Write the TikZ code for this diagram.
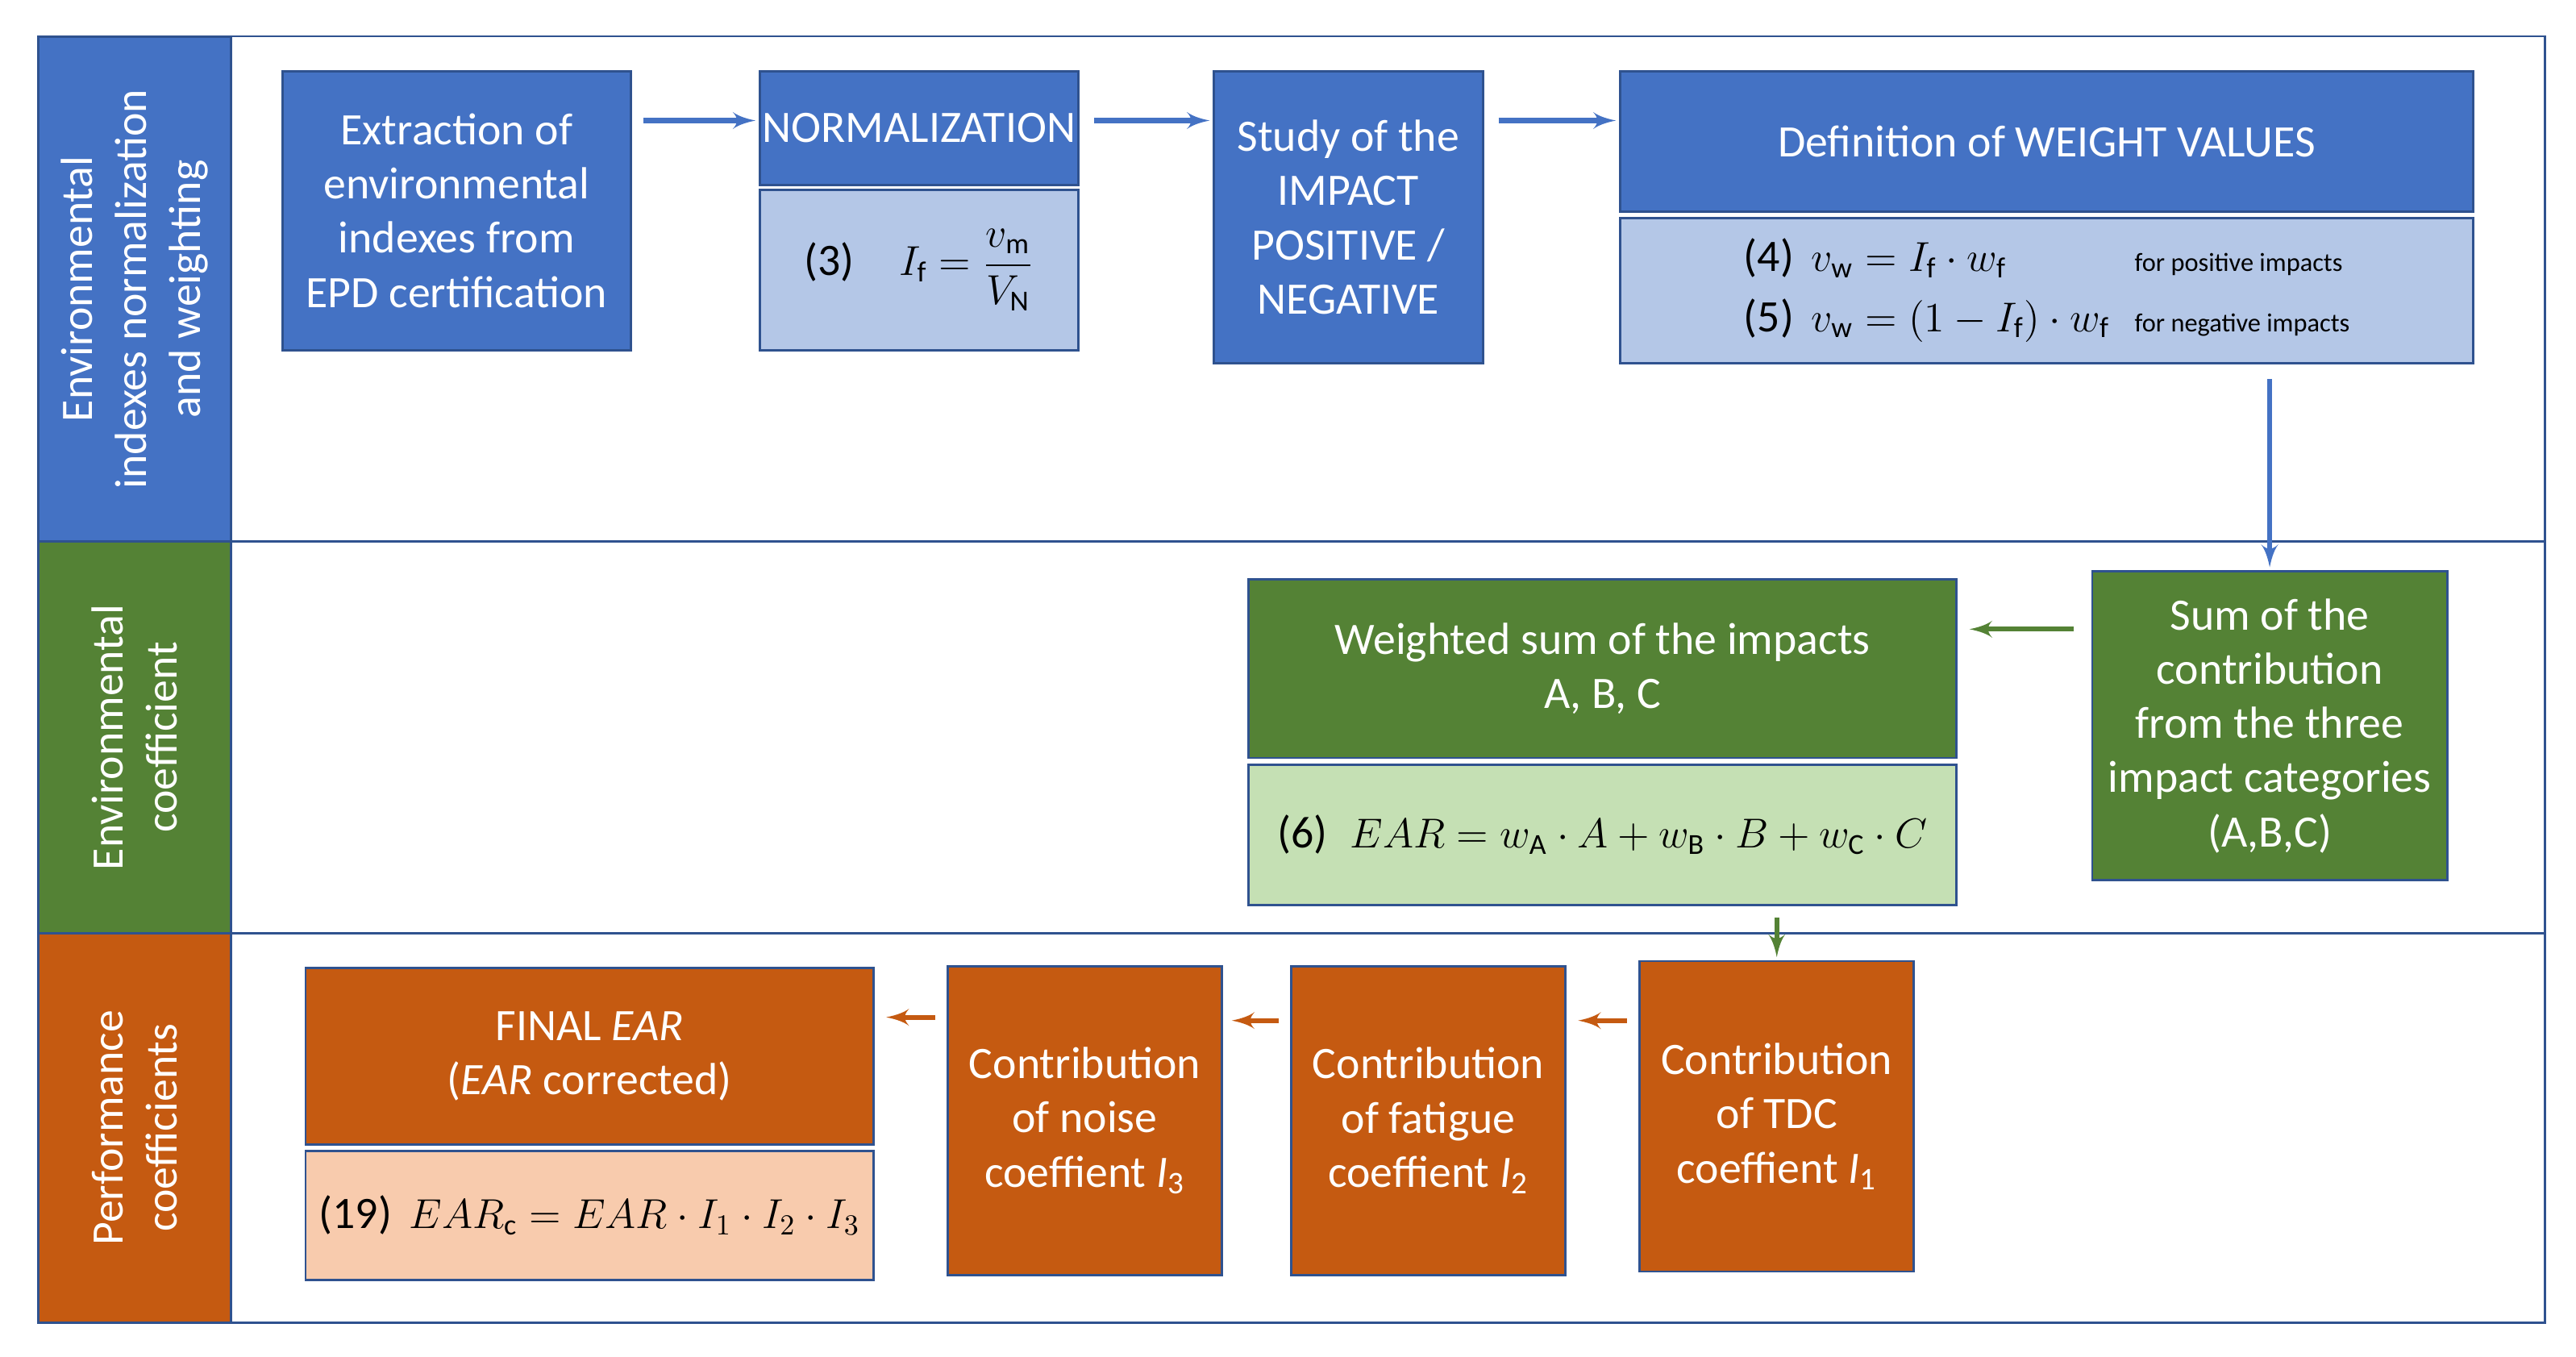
\documentclass[tikz,border=0pt]{standalone}
\usepackage{amsmath}
\usepackage{fontspec}
\setmainfont{Carlito}
\usepackage{tikz}
\usetikzlibrary{arrows,calc}
\definecolor{bord}{HTML}{2F528F}
\definecolor{blueF}{HTML}{4472C4}
\definecolor{blueL}{HTML}{B4C7E7}
\definecolor{greenF}{HTML}{548235}
\definecolor{greenL}{HTML}{C5E0B4}
\definecolor{orangeF}{HTML}{C55A11}
\definecolor{orangeL}{HTML}{F8CBAD}
\tikzset{
  block/.style={draw=bord, line width=0.8pt, text=white, align=center, inner sep=0pt, font=\fontsize{15.5}{18.7}\selectfont},
  bblock/.style={block, fill=blueF},
  gblock/.style={block, fill=greenF},
  oblock/.style={block, fill=orangeF},
  formula/.style={block, text=black},
  band/.style={draw=bord, line width=0.8pt, text=white, align=center, inner sep=0pt, rotate=90, font=\fontsize{15.5}{18.7}\selectfont},
  line/.style={draw, line width=1.7pt, -latex', shorten >=1pt}
}
\begin{document}
\begin{tikzpicture}[x=0.02cm, y=-0.02cm]
        \useasboundingbox (0,0) rectangle (1560,821.3);
        % frame and bands
        \draw[bord, line width=0.8pt] (23,22) rectangle (1541,801);
        \draw[bord, line width=0.8pt] (23,328) -- (1541,328);
        \draw[bord, line width=0.8pt] (23,565) -- (1541,565);
        \node[band, fill=blueF, minimum width=6.12cm, minimum height=2.34cm] (bandA) at (81.5,175) {Environmental\\indexes normalization\\and weighting};
        \node[band, fill=greenF, minimum width=4.74cm, minimum height=2.34cm] (bandB) at (81.5,446.5) {Environmental\\coefficient};
        \node[band, fill=orangeF, minimum width=4.72cm, minimum height=2.34cm] (bandC) at (81.5,683) {Performance\\coefficients};
        % first row
        \node[bblock, minimum width=4.22cm, minimum height=3.38cm] (extract) at (276.5,127.5) {Extraction of\\environmental\\indexes from\\EPD certification};
        \node[bblock, minimum width=3.86cm, minimum height=1.38cm] (norm) at (556.5,77.5) {NORMALIZATION};
        \node[formula, fill=blueL, minimum width=3.86cm, minimum height=1.94cm] (normf) at (556.5,163.5) {(3)\quad{\Large $I_{\mathrm f}=\dfrac{v_{\mathrm m}}{V_{\mathrm N}}$}};
        \node[bblock, minimum width=3.26cm, minimum height=3.54cm] (study) at (816.5,131.5) {Study of the\\IMPACT\\POSITIVE /\\NEGATIVE};
        \node[bblock, minimum width=10.34cm, minimum height=1.7cm] (weight) at (1239.5,85.5) {Definition of WEIGHT VALUES};
        \node[formula, fill=blueL, minimum width=10.34cm, minimum height=1.76cm] (weightf) at (1239.5,176) {%
          \begin{tabular}{@{}l@{\hspace{0.3cm}}l@{}}
          (4)\, {\Large $v_{\mathrm w}=I_{\mathrm f}\cdot w_{\mathrm f}$} & \small for positive impacts\\[2pt]
          (5)\, {\Large $v_{\mathrm w}=(1-I_{\mathrm f})\cdot w_{\mathrm f}$} & \small for negative impacts
          \end{tabular}};
        % second row
        \node[gblock, minimum width=4.3cm, minimum height=3.74cm] (sum) at (1374.5,439.5) {Sum of the\\contribution\\from the three\\impact categories\\(A,B,C)};
        \node[gblock, minimum width=8.58cm, minimum height=2.16cm] (wsum) at (970.5,405) {Weighted sum of the impacts\\A, B, C};
        \node[formula, fill=greenL, minimum width=8.58cm, minimum height=1.7cm] (wsumf) at (970.5,505.5) {(6)\; {\Large $EAR=w_{\mathrm A}\cdot A+w_{\mathrm B}\cdot B+w_{\mathrm C}\cdot C$}};
        % third row
        \node[oblock, minimum width=3.32cm, minimum height=3.76cm] (tdc) at (1076,676) {Contribution\\of TDC\\coeffient \textit{I}\textsubscript{1}};
        \node[oblock, minimum width=3.32cm, minimum height=3.74cm] (fatigue) at (865,678.5) {Contribution\\of fatigue\\coeffient \textit{I}\textsubscript{2}};
        \node[oblock, minimum width=3.32cm, minimum height=3.74cm] (noise) at (657,678.5) {Contribution\\of noise\\coeffient \textit{I}\textsubscript{3}};
        \node[oblock, minimum width=6.88cm, minimum height=2.14cm] (final) at (357,639.5) {FINAL \textit{EAR}\\(\textit{EAR} corrected)};
        \node[formula, fill=orangeL, minimum width=6.88cm, minimum height=1.56cm] (finalf) at (357,736) {(19)\, {\Large $EAR_{\mathrm c}=EAR\cdot I_1\cdot I_2\cdot I_3$}};
        % connectors
        \path[line, blueF, shorten <=4pt] (extract.east |- 0,73) -- (norm.west |- 0,73);
        \path[line, blueF, shorten <=5pt] (norm.east |- 0,73) -- (study.west |- 0,73);
        \path[line, blueF, shorten <=5pt] (study.east |- 0,73) -- (weight.west |- 0,73);
        \path[line, blueF, shorten <=5pt] (weightf.south -| sum.north) -- (sum.north);
        \path[line, greenF, shorten <=6pt, shorten >=4pt] (sum.west |- 0,381) -- (wsum.east |- 0,381);
        \path[line, greenF, shorten <=4pt] (wsumf.south -| tdc.north) -- (tdc.north);
        \path[line, orangeF, shorten <=4pt, shorten >=4pt] (tdc.west |- 0,618) -- (fatigue.east |- 0,618);
        \path[line, orangeF, shorten <=4pt, shorten >=3pt] (fatigue.west |- 0,618) -- (noise.east |- 0,618);
        \path[line, orangeF, shorten <=4pt, shorten >=4pt] (noise.west |- 0,616) -- (final.east |- 0,616);
\end{tikzpicture}
\end{document}
